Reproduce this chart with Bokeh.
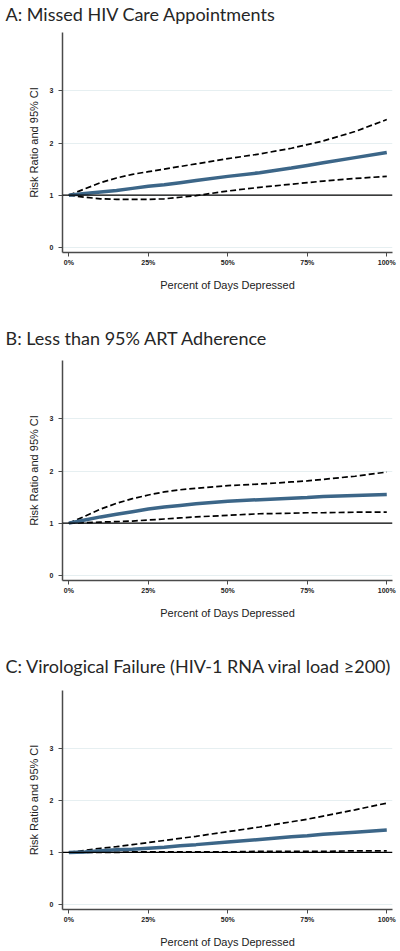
from bokeh.plotting import figure
from bokeh.models import Range1d, FixedTicker, Span
from bokeh.layouts import column
from bokeh.embed import file_html
from bokeh.resources import INLINE

# ---- data ----
x_pct = [0, 5, 10, 15, 20, 25, 30, 35, 40, 50, 60, 70, 75, 80, 90, 100]

titles = [
    "A: Missed HIV Care Appointments",
    "B: Less than 95% ART Adherence",
    "C: Virological Failure (HIV-1 RNA viral load \u2265200)",
]

rr_a = [1.00, 1.03, 1.06, 1.09, 1.13, 1.17, 1.20, 1.24, 1.28, 1.36, 1.43, 1.52, 1.57, 1.62, 1.72, 1.82]
hi_a = [1.00, 1.12, 1.24, 1.33, 1.40, 1.45, 1.50, 1.55, 1.60, 1.70, 1.79, 1.90, 1.97, 2.04, 2.22, 2.45]
lo_a = [1.00, 0.96, 0.93, 0.92, 0.92, 0.92, 0.93, 0.96, 0.99, 1.08, 1.15, 1.21, 1.24, 1.27, 1.32, 1.36]

rr_b = [1.00, 1.06, 1.12, 1.17, 1.22, 1.27, 1.31, 1.34, 1.37, 1.42, 1.45, 1.48, 1.49, 1.51, 1.53, 1.55]
hi_b = [1.00, 1.13, 1.27, 1.38, 1.47, 1.54, 1.60, 1.64, 1.67, 1.72, 1.75, 1.79, 1.81, 1.84, 1.90, 1.98]
lo_b = [1.00, 1.01, 1.02, 1.03, 1.04, 1.06, 1.08, 1.10, 1.12, 1.15, 1.18, 1.19, 1.20, 1.20, 1.21, 1.21]

rr_c = [1.00, 1.01, 1.03, 1.05, 1.06, 1.08, 1.10, 1.13, 1.15, 1.20, 1.25, 1.30, 1.32, 1.35, 1.39, 1.43]
hi_c = [1.00, 1.04, 1.08, 1.11, 1.15, 1.19, 1.23, 1.27, 1.31, 1.40, 1.49, 1.59, 1.64, 1.70, 1.82, 1.95]
lo_c = [1.00, 1.00, 1.00, 1.00, 1.01, 1.01, 1.01, 1.01, 1.01, 1.01, 1.02, 1.02, 1.02, 1.02, 1.03, 1.03]

x_ticks = [0, 25, 50, 75, 100]
x_tick_labels = ["0%", "25%", "50%", "75%", "100%"]
y_ticks = [0, 1, 2, 3]
y_tick_labels = ["0", "1", "2", "3"]
x_title = "Percent of Days Depressed"
y_title = "Risk Ratio and 95% CI"
reference_rr = 1

series = [(rr_a, hi_a, lo_a), (rr_b, hi_b, lo_b), (rr_c, hi_c, lo_c)]

# ---- layout (height, min_border_top, min_border_bottom, title bottom padding) ----
geom = [(324, 32, 72, 8), (328, 36, 72, 12), (298, 38, 40, 14)]

FIG_W = 400
BORDER_L = 62
BORDER_R = 8

figs = []
for (title, (rr, hi, lo), (h, bt, bb, pad)) in zip(titles, series, geom):
    p = figure(width=FIG_W, height=h, output_backend="svg", toolbar_location=None,
               x_range=Range1d(-2, 101.8), y_range=Range1d(-0.10, 4.12),
               min_border_left=BORDER_L, min_border_right=BORDER_R,
               min_border_top=bt, min_border_bottom=bb,
               title=title)
    p.outline_line_color = None
    p.background_fill_color = "white"
    p.border_fill_color = "white"

    p.title.align = "left"
    p.title.vertical_align = "bottom"
    p.title.offset = -(BORDER_L - 5)
    p.title.standoff = 0
    p.title.padding = dict(left=0, right=0, top=0, bottom=pad)
    p.title.text_font = "Lato"
    p.title.text_font_size = "18px"
    p.title.text_font_style = "normal"
    p.title.text_color = "#262626"

    # axes
    for ax in (p.xaxis[0], p.yaxis[0]):
        ax.axis_line_color = "#4a4a4a"
        ax.axis_line_width = 1.5
        ax.major_tick_line_color = "#4a4a4a"
        ax.major_tick_line_width = 1
        ax.major_tick_in = 0
        ax.major_tick_out = 4
        ax.minor_tick_line_color = None
        ax.major_label_text_font = "Liberation Sans"
        ax.major_label_text_font_size = "7px"
        ax.major_label_text_font_style = "bold"
        ax.major_label_text_color = "#222222"
        ax.axis_label_text_font = "Liberation Sans"
        ax.axis_label_text_font_size = "11px"
        ax.axis_label_text_font_style = "normal"
        ax.axis_label_text_color = "#222222"

    p.xaxis.ticker = FixedTicker(ticks=x_ticks)
    p.xaxis.major_label_overrides = dict(zip(x_ticks, x_tick_labels))
    p.xaxis.axis_label = x_title
    p.xaxis.major_label_standoff = 2
    p.xaxis.axis_label_standoff = 10

    p.yaxis.ticker = FixedTicker(ticks=y_ticks)
    p.yaxis.major_label_overrides = dict(zip(y_ticks, y_tick_labels))
    p.yaxis.axis_label = y_title
    p.yaxis.major_label_standoff = 5
    p.yaxis.axis_label_standoff = 7
    p.yaxis.major_label_orientation = "horizontal"

    p.xgrid.grid_line_color = None
    p.ygrid.ticker = FixedTicker(ticks=y_ticks)
    p.ygrid.grid_line_color = "#e6eff1"
    p.ygrid.grid_line_width = 1

    p.add_layout(Span(location=reference_rr, dimension="width",
                      line_color="black", line_width=1.3))

    p.line(x_pct, hi, line_color="black", line_width=1.7, line_dash="6 3")
    p.line(x_pct, lo, line_color="black", line_width=1.7, line_dash="6 3")
    p.line(x_pct, rr, line_color="#3c6688", line_width=3.5)

    figs.append(p)

layout = column(*figs, spacing=0)
open("out.html", "w").write(file_html(layout, INLINE))
